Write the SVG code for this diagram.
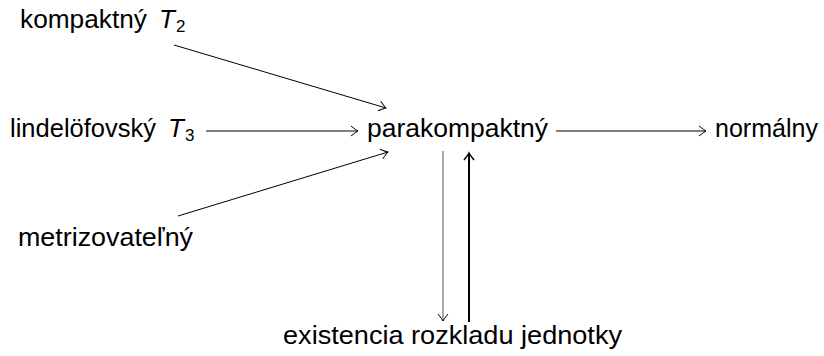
<svg xmlns="http://www.w3.org/2000/svg" width="824" height="356" viewBox="0 0 824 356">
  <style>
    text { font-family: "Liberation Sans", "DejaVu Sans", sans-serif; font-size: 26px; fill: #000; }
    .it { font-style: italic; }
    .sub { font-size: 17px; }
    .edge { stroke: #000; stroke-width: 1; fill: none; }
    .thin { stroke: #555; }
    .bold { stroke-width: 2; }
  </style>
  <defs>
    <marker id="tip" viewBox="-8 -6 10 12" markerWidth="10" markerHeight="12" refX="0" refY="0" orient="auto" markerUnits="userSpaceOnUse">
      <path d="M-7,-5 Q-2,-1 0,0 Q-2,1 -7,5" fill="none" stroke="#000" stroke-width="1"/>
    </marker>
    <marker id="tipbold" viewBox="-8 -6 10 12" markerWidth="10" markerHeight="12" refX="0" refY="0" orient="auto" markerUnits="userSpaceOnUse">
      <path d="M-7,-5 Q-2,-1 0,0 Q-2,1 -7,5" fill="none" stroke="#000" stroke-width="1.6"/>
    </marker>
  </defs>

  <g id="n-kompaktny">
    <text x="20" y="28" textLength="127" lengthAdjust="spacingAndGlyphs">kompaktný</text>
    <text class="it" x="159" y="28">T</text>
    <text class="sub" x="176" y="32">2</text>
  </g>
  <g id="n-lindelofovsky">
    <text x="10" y="137" textLength="146" lengthAdjust="spacingAndGlyphs">lindelöfovský</text>
    <text class="it" x="168" y="137">T</text>
    <text class="sub" x="185" y="141">3</text>
  </g>
  <g id="n-metrizovatelny">
    <text x="18" y="246" textLength="175" lengthAdjust="spacingAndGlyphs">metrizovateľný</text>
  </g>
  <g id="n-parakompaktny">
    <text x="367" y="137" textLength="181" lengthAdjust="spacingAndGlyphs">parakompaktný</text>
  </g>
  <g id="n-normalny">
    <text x="715" y="137" textLength="103" lengthAdjust="spacingAndGlyphs">normálny</text>
  </g>
  <g id="n-rozklad">
    <text x="283" y="344" textLength="339" lengthAdjust="spacingAndGlyphs">existencia rozkladu jednotky</text>
  </g>

  <g id="edges">
    <line class="edge" x1="174" y1="45" x2="386" y2="108" marker-end="url(#tip)"/>
    <line class="edge" x1="206" y1="131" x2="358" y2="131" marker-end="url(#tip)"/>
    <line class="edge" x1="178" y1="216" x2="388" y2="152" marker-end="url(#tip)"/>
    <line class="edge" x1="556" y1="131" x2="706" y2="131" marker-end="url(#tip)"/>
    <line class="edge thin" x1="443" y1="151" x2="443" y2="321" marker-end="url(#tip)"/>
    <line class="edge bold" x1="469" y1="322" x2="469" y2="153" marker-end="url(#tipbold)"/>
  </g>
</svg>
